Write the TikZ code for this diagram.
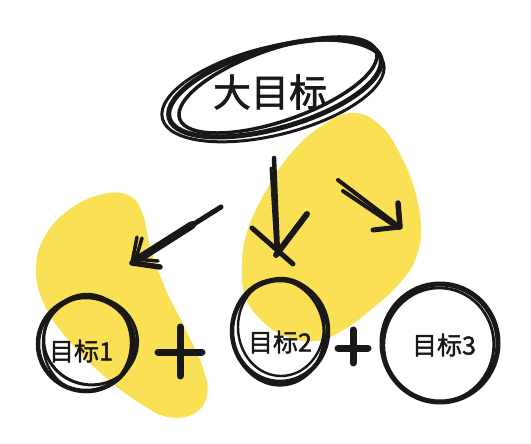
\documentclass[tikz,border=0pt]{standalone}
\usepackage{fontspec}
\usetikzlibrary{shapes.geometric}
\newfontfamily\cjk[FakeBold=1.6]{Noto Sans CJK SC}
\definecolor{blob}{RGB}{250,224,84}
\definecolor{inkc}{RGB}{26,24,22}
\begin{document}
\begin{tikzpicture}[x=1pt,y=-1pt,
  ink/.style={draw=inkc, line width=3pt, line cap=round, line join=round},
  brush/.style={draw=inkc, line width=5pt, line cap=round, line join=round},
  lbl/.style={font=\cjk\fontsize{25}{25}\selectfont, text=inkc, inner sep=0pt},
  goal/.style={circle, inner sep=0pt, minimum size=96pt}]
\useasboundingbox (0,0) rectangle (531,444);
\fill[white] (0,0) rectangle (531,444);
% yellow blobs
\fill[blob] plot[smooth cycle, tension=0.7] coordinates {
  (103,194) (130,196) (143,215) (151,250) (166,290) (186,330) (203,368)
  (207,395) (195,413) (168,417) (138,402) (104,376) (70,342) (45,306)
  (36,270) (45,236) (70,209)};
\fill[blob] plot[smooth cycle, tension=0.7] coordinates {
  (353,113) (381,126) (401,156) (415,191) (421,228) (416,258) (400,283)
  (373,308) (345,329) (317,341) (285,336) (260,319) (245,296) (242,268)
  (246,235) (262,198) (288,157) (320,127)};
% big goal
\node[ellipse, inner sep=0pt, minimum width=220pt, minimum height=80pt] (big) at (275,88) {};
\draw[ink, line width=5pt, rotate around={16:(big.center)}] (big.center) ellipse [x radius=110, y radius=40];
\draw[ink, line width=3.5pt, rotate around={19:(278,85)}] (278,85) ellipse [x radius=104, y radius=36];
\draw[ink, line width=3pt, rotate around={14:(273,91)}] (273,91) ellipse [x radius=114, y radius=44];
\node[font=\cjk\fontsize{38}{38}\selectfont, text=inkc] (bigt) at (270,92) {大目标};
% goal circles
\node[goal] (g1) at (86,344) {};
\node[goal] (g2) at (280,331) {};
\node[goal, minimum size=120pt] (g3) at (440,343) {};
\draw[ink, line width=4.5pt] (g1.center) ellipse [x radius=48, y radius=47];
\draw[ink, line width=3pt, rotate around={-10:(g1.center)}] ([shift={(4,-4)}]g1.center) ellipse [x radius=47, y radius=44];
\draw[ink, line width=2.4pt] ([shift={(1,-1)}]g1.center) ellipse [x radius=44, y radius=49];
\draw[ink, line width=4.5pt] (g2.center) ellipse [x radius=48, y radius=51];
\draw[ink, line width=3pt, rotate around={8:(g2.center)}] ([shift={(-2,1)}]g2.center) ellipse [x radius=46, y radius=53];
\draw[ink, line width=2.4pt] ([shift={(1,-4)}]g2.center) ellipse [x radius=43, y radius=49];
\draw[ink, line width=5pt] (g3.center) ellipse [x radius=58, y radius=59];
\draw[ink, line width=2.8pt, rotate around={-6:(g3.center)}] ([shift={(-1,2)}]g3.center) ellipse [x radius=55, y radius=57];
\node[lbl] (t1) at (81,351) {目标1};
\node[lbl] (t2) at (280,342) {目标2};
\node[lbl] (t3) at (444,345) {目标3};
% plus signs
\coordinate (p1) at (180,352);
\coordinate (p2) at (353,348);
\draw[brush, line width=7pt] ([xshift=-22]p1) -- ([xshift=22]p1);
\draw[brush, line width=7pt] ([yshift=-24]p1) -- ([yshift=25]p1);
\draw[brush, line width=7pt] ([xshift=-15]p2) -- ([xshift=15]p2);
\draw[brush, line width=7pt] ([yshift=-15]p2) -- ([yshift=18]p2);
% arrows
\coordinate (a1s) at (221,207); \coordinate (a1t) at (132,263);
\draw[brush, line width=5pt] (a1s) -- (a1t);
\draw[brush, line width=8pt] (192,225) -- (140,258);
\draw[brush, line width=3.5pt] (137,237) -- (a1t);
\draw[brush, line width=3.5pt] (142,238) -- (135,262);
\draw[brush, line width=5.5pt] (a1t) -- (160,267);
\draw[brush, line width=3.5pt] (134,259) -- (158,261);
\coordinate (a2s) at (274,158); \coordinate (a2t) at (278,254);
\draw[brush, line width=4.5pt] (a2s) -- (a2t);
\draw[brush, line width=3pt] (271,168) -- (276,250);
\draw[brush, line width=5pt] (252,228) -- (293,264);
\draw[brush, line width=6pt] (307,214) -- (276,255);
\coordinate (a3s) at (338,180); \coordinate (a3t) at (400,227);
\draw[brush, line width=4pt] (a3s) -- (a3t);
\draw[brush, line width=4pt] (343,191) -- (398,228);
\draw[brush, line width=5.5pt] (398,203) -- (a3t);
\draw[brush, line width=5pt] (373,230) -- (a3t);
\end{tikzpicture}
\end{document}
